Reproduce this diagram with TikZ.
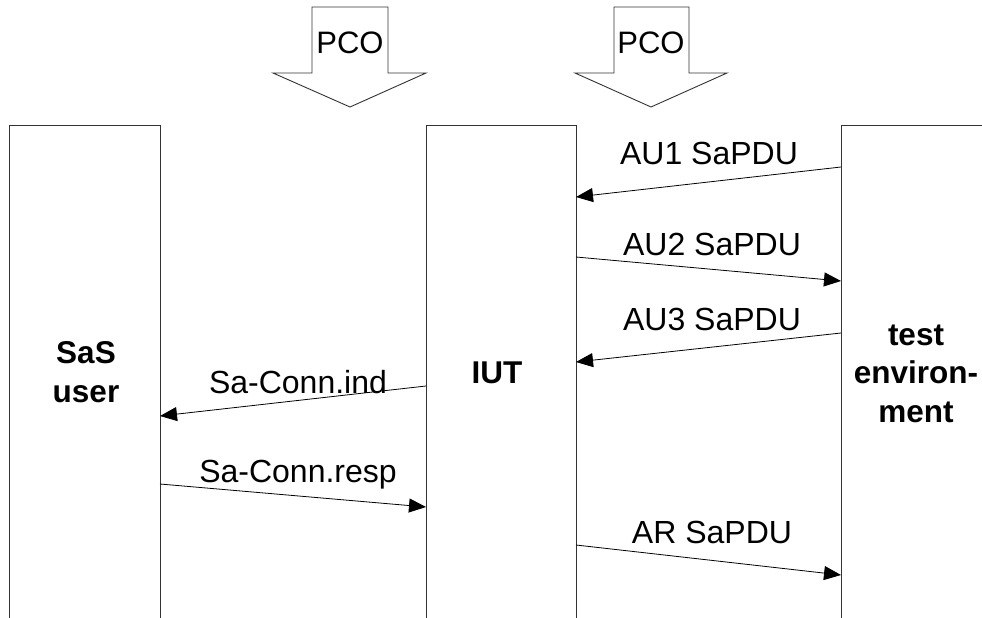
\documentclass[tikz,border=0pt]{standalone}
\usepackage{fontspec}
\setmainfont{Liberation Sans}
\usetikzlibrary{arrows.meta}
\begin{document}
\begin{tikzpicture}[x=1pt,y=-1pt,
  lifebox/.style={draw=black!80, line width=1pt, rectangle, inner sep=0pt, outer sep=0pt, minimum height=700pt, anchor=north west},
  msg/.style={draw=black, line width=0.8pt, -{Triangle[length=17pt,width=14pt]}},
  lbl/.style={font=\fontsize{32}{36}\selectfont, anchor=base, inner sep=0pt},
  pcol/.style={font=\fontsize{31}{36}\selectfont, anchor=base, inner sep=0pt},
  ttl/.style={font=\fontsize{31.5}{38.5}\selectfont\bfseries, align=center, anchor=base, inner sep=0pt},
  pco/.style={draw=black!80, line width=0.9pt, fill=white, line join=miter}]
\useasboundingbox (0,0) rectangle (982,618);
\clip (0,0) rectangle (982,618);
% lifelines
\node[lifebox, minimum width=151pt] (sas) at (9,125) {};
\node[lifebox, minimum width=150pt] (iut) at (426,125) {};
\node[lifebox, minimum width=300pt] (te) at (841,125) {};
% titles
\node[ttl] (sast) at (86,402) {SaS\\user};
\node[ttl] (iutt) at (497,383) {IUT};
\node[ttl] (tet) at (916,422) {test\\environ-\\ment};
% PCO arrows
\draw[pco] (312,7) -- (388,7) -- (388,73) -- (426,73) -- (350,107) -- (273,73) -- (312,73) -- cycle;
\node[pcol] (pco1) at (350,53) {PCO};
\draw[pco] (614,7) -- (689,7) -- (689,73) -- (727,73) -- (651,107) -- (575,73) -- (614,73) -- cycle;
\node[pcol] (pco2) at (651,53) {PCO};
% message endpoints
\path (te.north west) ++(0,42) coordinate (a1s);
\path (iut.north east) ++(0,72) coordinate (a1e);
\path (iut.north east) ++(0,132) coordinate (a2s);
\path (te.north west) ++(0,156) coordinate (a2e);
\path (te.north west) ++(0,208) coordinate (a3s);
\path (iut.north east) ++(0,237) coordinate (a3e);
\path (iut.north west) ++(0,261) coordinate (cis);
\path (sas.north east) ++(0,291) coordinate (cie);
\path (sas.north east) ++(0,359) coordinate (crs);
\path (iut.north west) ++(0,382) coordinate (cre);
\path (iut.north east) ++(0,420) coordinate (ars);
\path (te.north west) ++(0,450) coordinate (are);
% messages
\draw[msg] (a1s) -- (a1e);
\draw[msg] (a2s) -- (a2e);
\draw[msg] (a3s) -- (a3e);
\draw[msg] (cis) -- (cie);
\draw[msg] (crs) -- (cre);
\draw[msg] (ars) -- (are);
% labels
\node[lbl] (l1) at (709,164) {AU1 SaPDU};
\node[lbl] (l2) at (712,255) {AU2 SaPDU};
\node[lbl] (l3) at (712,330) {AU3 SaPDU};
\node[lbl] (l4) at (298,393) {Sa-Conn.ind};
\node[lbl] (l5) at (298,482) {Sa-Conn.resp};
\node[lbl] (l6) at (712,543) {AR SaPDU};
\end{tikzpicture}
\end{document}
